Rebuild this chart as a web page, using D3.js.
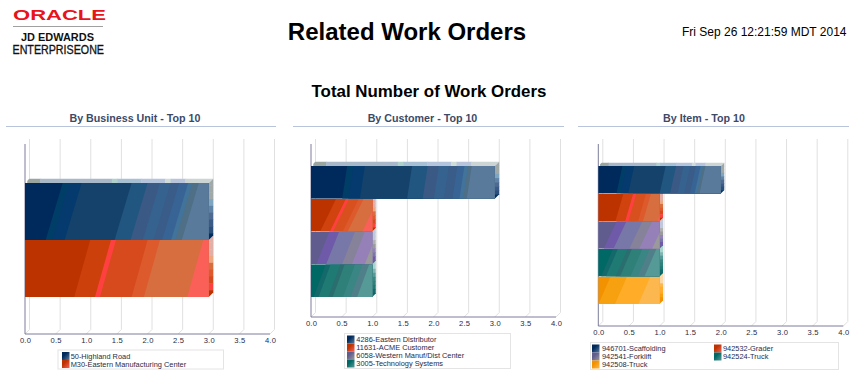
<!DOCTYPE html>
<html><head><meta charset="utf-8">
<script src="https://cdn.jsdelivr.net/npm/d3@7"></script>
<style>html,body{margin:0;padding:0;background:#fff}svg{display:block}text{font-family:"Liberation Sans",Arial,sans-serif}</style>
</head><body><svg id="c" width="857" height="378"></svg>
<script>
// ---- data ----
const unitNames = ["50-Highland Road", "M30-Eastern Manufacturing Center"];
const unitValues = [3, 3];
const customerNames = ["4286-Eastern Distributor", "11631-ACME Customer", "6058-Western Manuf/Dist Center", "3005-Technology Systems"];
const customerValues = [3, 1, 1, 1];
const itemNames = ["946701-Scaffolding", "942532-Grader", "942541-Forklift", "942524-Truck", "942508-Truck"];
const itemValues = [2, 1, 1, 1, 1];
const tickValues = [0, 0.5, 1, 1.5, 2, 2.5, 3, 3.5, 4];
const titles = ["By Business Unit - Top 10", "By Customer - Top 10", "By Item - Top 10"];

// ---- styles: band edge (fraction of bar length at the bar's top), colour ----
const blue = {front: [[.205,"#002a5c"],[.241,"#003e68"],[.308,"#053a6e"],[.58,"#14426b"],[.667,"#215680"],[.734,"#3a5a85"],[.792,"#36628f"],[.839,"#3a5c88"],[.888,"#386495"],[.911,"#41739b"],[.946,"#4e6f85"],[1.2,"#5a7a9c"]],
  side: ["#a0a8a8","#a0a8a8","#a0a8a8","#7fa6c0","#5f84a8","#4e6a90","#3a5a88","#2a4f7a","#003060"],
  top: [[.07,"#9aa5a0"],[.46,"#a8b8c8"],[.49,"#b0d0cc"],[.62,"#a8c0d4"],[.75,"#b4c4dc"],[.78,"#d0dcd8"],[.86,"#b8c4dc"],[1.1,"#ccd4d4"]]};
const blueNarrow = {front: [[.197,"#002a5c"],[.23,"#003e68"],[.293,"#053a6e"],[.55,"#14426b"],[.635,"#215680"],[.696,"#3a5a85"],[.75,"#36628f"],[.797,"#3a5c88"],[.835,"#386495"],[.855,"#41739b"],[.875,"#4e6f85"],[1.2,"#5a7a9c"]],
  side: blue.side, top: blue.top};
const redWide = {front: [[.355,"#bc3300"],[.468,"#cc400c"],[.495,"#ff4040"],[.667,"#d64a1e"],[.734,"#dc5a2c"],[.97,"#d66e40"],[1.3,"#fa6058"]],
  side: ["#e0b0a8","#e0b0a8","#e0b0a8","#eca880","#d66e40","#dc5a2c","#d64a1e","#ff4040","#bc3300"], top: []};
const redNarrow = {front: [[.41,"#bc3300"],[.57,"#d0420e"],[.62,"#ff4040"],[.78,"#d9501f"],[.86,"#dc5a2c"],[1.1,"#d66e40"],[1.4,"#fa6058"]],
  side: redWide.side, top: []};
const purple = {front: [[.30,"#605c8e"],[.46,"#6e5aa8"],[.72,"#7878a8"],[.88,"#868299"],[1.09,"#9580b8"],[1.4,"#9a9a9a"]],
  side: ["#c0c8dc","#c0c8dc","#c0c8dc","#b0b0b0","#9a9a9a","#9580b8","#7878a8","#6e5aa8","#605c8e"], top: []};
const teal = {front: [[.24,"#006865"],[.32,"#14696a"],[.48,"#1f7a74"],[.55,"#2a6e70"],[.72,"#2f8078"],[.84,"#3a8684"],[.95,"#4f7f88"],[1.4,"#569a98"]],
  side: ["#a8d4d0","#a8d4d0","#80b4b0","#569a98","#3a8684","#2f8078","#1f7a74","#14696a","#006865"], top: []};
const orange = {front: [[.2,"#f39200"],[.47,"#f7a010"],[.85,"#ffac28"],[1.4,"#fcb84e"]],
  side: ["#fad8a8","#fad8a8","#fad8a8","#fcb84e","#ffac28","#ffac28","#f7a010","#f39200","#f39200"], top: []};

const panels = [
  {names: unitNames, values: unitValues, tex: [blue, redWide], slant: [17, 16], x0: 25, bottom: 334, barTop: 183, barBottom: 297, title: titles[0], titleX: 135, rule: [6, 276],
   legend: {x: 58, y: 350, w: 165.5, rows: 2, cols: [[62, 70.7]]}},
  {names: customerNames, values: customerValues, tex: [blueNarrow, redNarrow, purple, teal], slant: [5, 16, 13, 12], x0: 311, bottom: 317, barTop: 166, barBottom: 297, title: titles[1], titleX: 422.5, rule: [293, 564],
   legend: {x: 344.5, y: 333.5, w: 166, rows: 4, cols: [[347, 356.3]]}},
  {names: itemNames, values: itemValues, tex: [blueNarrow, redNarrow, purple, teal, orange], slant: [6, 8, 13, 12, 12], x0: 598.3, bottom: 326, barTop: 166, barBottom: 304, title: titles[2], titleX: 704, rule: [578, 849],
   legend: {x: 590.5, y: 342.5, w: 248, rows: 3, cols: [[592, 602], [714, 723]]}}
];

const svg = d3.select("#c");
const defs = svg.append("defs");

// ---- header ----
const label = (x, y, t, size, weight, fill, anchor) => svg.append("text").attr("x", x).attr("y", y).text(t)
  .attr("font-size", size).attr("font-weight", weight).attr("fill", fill).attr("text-anchor", anchor || "start");
label(13, 20, "ORACLE", 15.5, "bold", "#e8141c").attr("textLength", 93).attr("lengthAdjust", "spacingAndGlyphs");
svg.append("line").attr("x1", 13).attr("x2", 103).attr("y1", 26.5).attr("y2", 26.5).attr("stroke", "#a0a0a0");
label(21, 41, "JD EDWARDS", 10, "bold", "#111").attr("textLength", 73).attr("lengthAdjust", "spacingAndGlyphs");
label(12.5, 54, "ENTERPRISEONE", 12, "normal", "#111").attr("textLength", 91.5).attr("lengthAdjust", "spacingAndGlyphs").attr("stroke", "#111").attr("stroke-width", .3);
label(407, 39.5, "Related Work Orders", 24, "bold", "#000", "middle");
label(429, 97, "Total Number of Work Orders", 16.9, "bold", "#000", "middle");
label(846.5, 36, "Fri Sep 26 12:21:59 MDT 2014", 12, "normal", "#000", "end");

const tickFmt = d3.format(".1f");
const wallTop = 139;

panels.forEach((p, pi) => {
  const g = svg.append("g");
  g.append("text").attr("x", p.titleX).attr("y", 121.5).attr("text-anchor", "middle").attr("font-size", 10.7).attr("font-weight", "bold").attr("fill", "#3c4a68").text(p.title);
  g.append("line").attr("x1", p.rule[0]).attr("x2", p.rule[1]).attr("y1", 126.5).attr("y2", 126.5).attr("stroke", "#b8c4dc");

  const x = d3.scaleLinear().domain([0, 4]).range([p.x0, p.x0 + 245]);
  const y = d3.scaleBand().domain(p.names).range([p.barTop, p.barBottom]);
  const wall = 4.5;

  // back wall grid with floor diagonals
  g.append("g").selectAll("path").data(tickValues).join("path")
    .attr("fill", "none").attr("stroke", "#e0e0e0")
    .attr("d", t => d3.line()([[x(t) + wall, wallTop], [x(t) + wall, p.bottom - wall], [x(t), p.bottom]]));

  // axis
  const axis = d3.axisBottom(x).tickValues(tickValues).tickFormat(tickFmt).tickSize(0).tickPadding(4);
  const ax = g.append("g").attr("transform", `translate(0,${p.bottom})`).call(axis);
  ax.select(".domain").remove();
  ax.selectAll("text").attr("font-size", 7.6).attr("fill", "#2a2a44").attr("font-family", "Liberation Sans").attr("letter-spacing", .2);
  g.append("path").attr("fill", "none").attr("stroke", "#7c7c9c").attr("stroke-width", 1)
    .attr("d", d3.line()([[x(0), 144], [x(0), p.bottom], [x(4), p.bottom]]));

  // bars, lowest first so each upper bar overlaps the bevel of the one below
  const order = d3.range(p.names.length).reverse();
  order.forEach(i => {
    const name = p.names[i], v = p.values[i], tex = p.tex[i];
    const t = y(name), b = t + y.bandwidth(), x1 = x(v), x0 = x(0);
    const d = v >= 3 ? 4.5 : 3.5;
    const along = d3.scaleLinear().domain([0, 1]).range([x0, x1]);
    const bar = g.append("g");

    // side face
    const sideId = `s${pi}_${i}`;
    defs.append("clipPath").attr("id", sideId).append("path")
      .attr("d", d3.line()([[x1, t], [x1 + d, t - d], [x1 + d, b - d], [x1, b]]) + "Z");
    const sideY = d3.scaleBand().domain(d3.range(tex.side.length)).range([t - d, b]);
    bar.append("g").attr("clip-path", `url(#${sideId})`).selectAll("rect").data(tex.side).join("rect")
      .attr("x", x1).attr("width", d + .5).attr("y", (c, k) => sideY(k)).attr("height", sideY.bandwidth() + .5).attr("fill", c => c);

    // top face, only the first bar shows it
    if (i === 0) {
      const topId = `t${pi}`;
      defs.append("clipPath").attr("id", topId).append("path")
        .attr("d", d3.line()([[x0, t], [x0 + d, t - d], [x1 + d, t - d], [x1, t]]) + "Z");
      let prev = 0;
      const topBands = tex.top.map(([e, c]) => { const r = {a: prev, e, c}; prev = e; return r; });
      bar.append("g").attr("clip-path", `url(#${topId})`).selectAll("rect").data(topBands).join("rect")
        .attr("x", r => along(r.a) + d / 2).attr("width", r => along(r.e) - along(r.a) + .5)
        .attr("y", t - d).attr("height", d).attr("fill", r => r.c);
    }

    // front face with slanted bands; each band is painted to the far end, the next one covers it
    const frontId = `f${pi}_${i}`;
    defs.append("clipPath").attr("id", frontId).append("rect")
      .attr("x", x0).attr("y", t).attr("width", x1 - x0).attr("height", b - t);
    let prevEdge = -0.6;
    const bands = tex.front.map(([e, c]) => { const r = {a: prevEdge, c}; prevEdge = e; return r; });
    const s = p.slant[i];
    const far = along(2);
    bar.append("g").attr("clip-path", `url(#${frontId})`).selectAll("path").data(bands).join("path")
      .attr("fill", r => r.c)
      .attr("d", r => d3.line()([[along(r.a), t], [far, t], [far, b], [along(r.a) - s, b]]) + "Z");
  });

  // legend
  const L = p.legend, rowH = 8;
  const rowsPerCol = L.cols.length;
  g.append("rect").attr("x", L.x).attr("y", L.y).attr("width", L.w).attr("height", L.rows * rowH + 3)
    .attr("fill", "#fff").attr("stroke", "#e4e4e4");
  p.names.forEach((name, i) => {
    const col = L.cols[i % rowsPerCol], row = Math.floor(i / rowsPerCol);
    const ty = L.y + 2 + row * rowH;
    const id = `g${pi}_${i}`;
    const stops = p.tex[i].front;
    const grad = defs.append("linearGradient").attr("id", id).attr("x1", 0).attr("y1", 0).attr("x2", 1).attr("y2", 1);
    grad.append("stop").attr("offset", "35%").attr("stop-color", stops[0][1]);
    grad.append("stop").attr("offset", "100%").attr("stop-color", stops[stops.length - 1][1]);
    g.append("rect").attr("x", col[0]).attr("y", ty).attr("width", 7.5).attr("height", rowH).attr("fill", `url(#${id})`);
    g.append("text").attr("x", col[1]).attr("y", ty + 6.7).attr("font-size", 7.4).attr("fill", "#2a2a44").text(name);
  });
});
</script></body></html>
